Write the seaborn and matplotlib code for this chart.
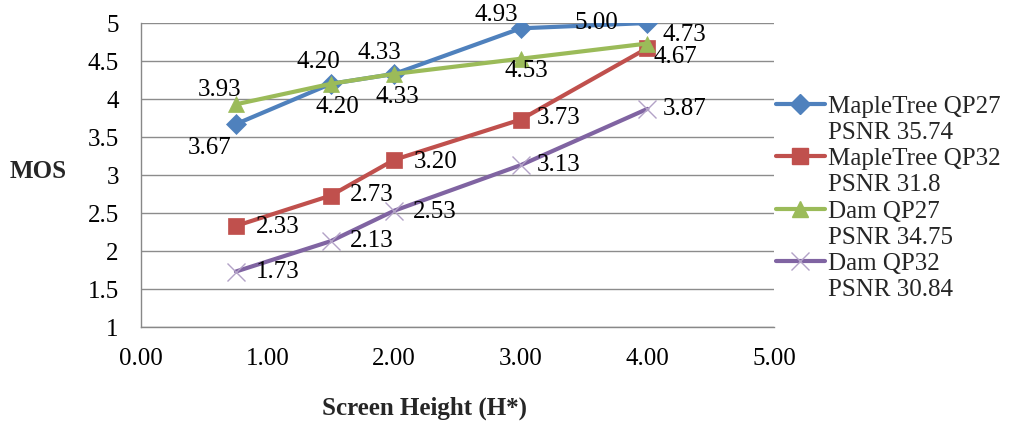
import matplotlib
matplotlib.use("Agg")
import matplotlib.pyplot as plt
from matplotlib.lines import Line2D
from matplotlib.ticker import FuncFormatter
import seaborn as sns
import pandas as pd

# Viewing distance in screen heights
screen_height = [0.75, 1.5, 2.0, 3.0, 4.0]

# Mean opinion scores per sequence / QP
mos_maple_qp27 = [3.67, 4.20, 4.33, 4.93, 5.00]
mos_maple_qp32 = [2.33, 2.73, 3.20, 3.73, 4.67]
mos_dam_qp27 = [3.93, 4.20, 4.33, 4.53, 4.73]
mos_dam_qp32 = [1.73, 2.13, 2.53, 3.13, 3.87]

series_names = ["MapleTree QP27", "MapleTree QP32", "Dam QP27", "Dam QP32"]
series_psnr = ["PSNR 35.74", "PSNR 31.8", "PSNR 34.75", "PSNR 30.84"]
series_values = [mos_maple_qp27, mos_maple_qp32, mos_dam_qp27, mos_dam_qp32]

colors = ["#4F81BD", "#C0504D", "#9BBB59", "#8064A2"]
markers = ["D", "s", "^", "x"]
marker_sizes = [10, 12, 11, 13]
marker_colors = ["#4F81BD", "#C0504D", "#9BBB59", "#B3A2C7"]

# Value-label offsets in pixels (dx, dy) for each point of each series
label_offsets = [
    [(-26, -24), (-13, 22), (-15, 21), (-24, 13), (-51, 0)],
    [(42, -1), (41, 1), (41, -2), (38, 2), (28, -9)],
    [(-16, 14), (6, -23), (3, -23), (6, -12), (37, 9)],
    [(42, 0), (41, 0), (41, -1), (38, 0), (37, 0)],
]

sns.set_theme(style="white")
plt.rcParams["font.family"] = ["Liberation Serif", "DejaVu Serif"]
FS = 18

rows = []
for name, vals in zip(series_names, series_values):
    for x, y in zip(screen_height, vals):
        rows.append({"Screen Height": x, "MOS": y, "Series": name})
df = pd.DataFrame(rows)

fig = plt.figure(figsize=(10.10, 4.21), dpi=100)
ax = fig.add_axes([141 / 1010, 1 - 327 / 421, (774 - 141) / 1010, (327 - 23) / 421])

for name, c, m, ms, mc in zip(series_names, colors, markers, marker_sizes, marker_colors):
    sub = df[df["Series"] == name]
    sns.lineplot(data=sub, x="Screen Height", y="MOS", ax=ax, color=c,
                 linewidth=3.0, marker=m, markersize=ms,
                 markerfacecolor=mc, markeredgecolor=mc,
                 markeredgewidth=1.0 if m == "x" else 0.5,
                 legend=False, zorder=3)

for vals, offs in zip(series_values, label_offsets):
    for x, y, (dx, dy) in zip(screen_height, vals, offs):
        ax.annotate(f"{y:.2f}", (x, y), xytext=(dx, dy), textcoords="offset pixels",
                    ha="center", va="center", fontsize=FS, color="black", zorder=5)

ax.set_xlim(0, 5)
ax.set_ylim(1, 5)
ax.set_xticks([0, 1, 2, 3, 4, 5])
ax.set_yticks([1, 1.5, 2, 2.5, 3, 3.5, 4, 4.5, 5])
ax.xaxis.set_major_formatter(FuncFormatter(lambda v, p: f"{v:.2f}"))
ax.yaxis.set_major_formatter(FuncFormatter(lambda v, p: f"{v:g}"))
ax.tick_params(axis="both", labelsize=FS, colors="#888888", labelcolor="black",
               length=6, width=1.0, direction="out")
ax.tick_params(axis="y", pad=10)
ax.tick_params(axis="x", pad=9)
ax.grid(axis="y", color="#8C8C8C", linewidth=1.0)
ax.grid(axis="x", visible=False)
for side in ["top", "right"]:
    ax.spines[side].set_visible(False)
for side in ["left", "bottom"]:
    ax.spines[side].set_color("#888888")
    ax.spines[side].set_linewidth(1.0)

ax.set_xlabel("")
ax.set_ylabel("")
fig.text(425 / 1010, 1 - 408 / 421, "Screen Height (H*)", ha="center", va="center",
         fontsize=FS, fontweight="bold")
fig.text(38 / 1010, 1 - 172 / 421, "MOS", ha="center", va="center",
         fontsize=FS, fontweight="bold")

handles, labels = [], []
for name, psnr, c, m, ms, mc in zip(series_names, series_psnr, colors, markers,
                                    marker_sizes, marker_colors):
    handles.append(Line2D([0], [0], color=c, linewidth=3.0, marker=m, markersize=ms,
                          markerfacecolor=mc, markeredgecolor=mc))
    labels.append(name)
    handles.append(Line2D([0], [0], color="none"))
    labels.append(psnr)

fig.legend(handles, labels, loc="upper left", bbox_to_anchor=(776 / 1010, 1 - 95 / 421),
           frameon=False, fontsize=FS, handlelength=1.95, handletextpad=0.15,
           labelspacing=0.15, borderaxespad=0, borderpad=0)

fig.savefig("out.png", dpi=100)
